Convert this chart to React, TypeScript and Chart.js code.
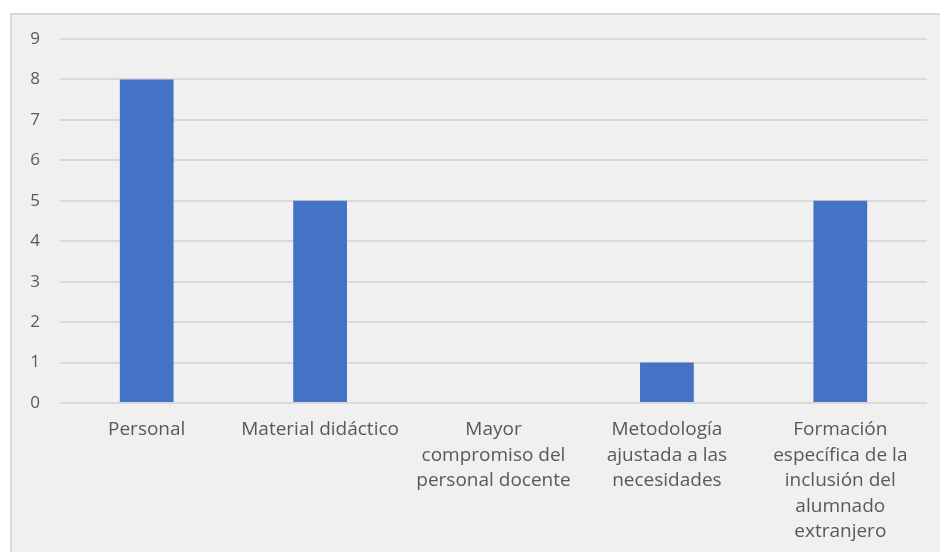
import React, { useEffect, useRef } from "react";
import { Chart, registerables } from "chart.js";

Chart.register(...registerables);

const categories: (string | string[])[] = [
  "Personal",
  "Material didáctico",
  ["Mayor", "compromiso del", "personal docente"],
  ["Metodología", "ajustada a las", "necesidades"],
  ["Formación", "específica de la", "inclusión del", "alumnado", "extranjero"],
];
const values = [8, 5, 0, 1, 5];
const yMin = 0;
const yMax = 9;
const yStep = 1;

export default function App() {
  const ref = useRef<HTMLCanvasElement | null>(null);
  useEffect(() => {
    if (!ref.current) return;
    const chart = new Chart(ref.current, {
      type: "bar",
      data: {
        labels: categories,
        datasets: [
          {
            data: values,
            backgroundColor: "#4472c4",
            borderWidth: 0,
            categoryPercentage: 1,
            barPercentage: 0.31,
          },
        ],
      },
      options: {
        animation: false,
        responsive: false,
        maintainAspectRatio: false,
        layout: { padding: { top: 39, right: 13, left: 0, bottom: 0 } },
        plugins: { legend: { display: false }, tooltip: { enabled: false } },
        scales: {
          x: {
            grid: { display: false, drawTicks: false },
            border: { display: false },
            ticks: {
              color: "#595959",
              font: { family: "'Open Sans'", size: 19, lineHeight: 1.34 },
              maxRotation: 0,
              autoSkip: false,
              padding: 14,
            },
            afterFit: (s: any) => {
              s.height = 149;
            },
          },
          y: {
            min: yMin,
            max: yMax,
            grid: { color: "#d9d9d9", lineWidth: 2, drawTicks: false },
            border: { display: false },
            ticks: {
              stepSize: yStep,
              color: "#595959",
              font: { family: "'Open Sans'", size: 17 },
              padding: 20,
            },
            afterFit: (s: any) => {
              s.width = 60;
            },
          },
        },
      },
    });
    return () => chart.destroy();
  }, []);
  return (
    <div style={{ position: "fixed", left: 0, top: 0, width: 940, height: 552, background: "#ffffff", overflow: "hidden" }}>
      <div
        style={{
          position: "absolute",
          left: 10,
          top: 13,
          width: 960,
          height: 560,
          background: "#f0f0f0",
          borderTop: "2px solid #d9d9d9",
          borderLeft: "2px solid #d9d9d9",
        }}
      />
      <canvas ref={ref} width={940} height={552} style={{ position: "absolute", left: 0, top: 0 }} />
    </div>
  );
}
